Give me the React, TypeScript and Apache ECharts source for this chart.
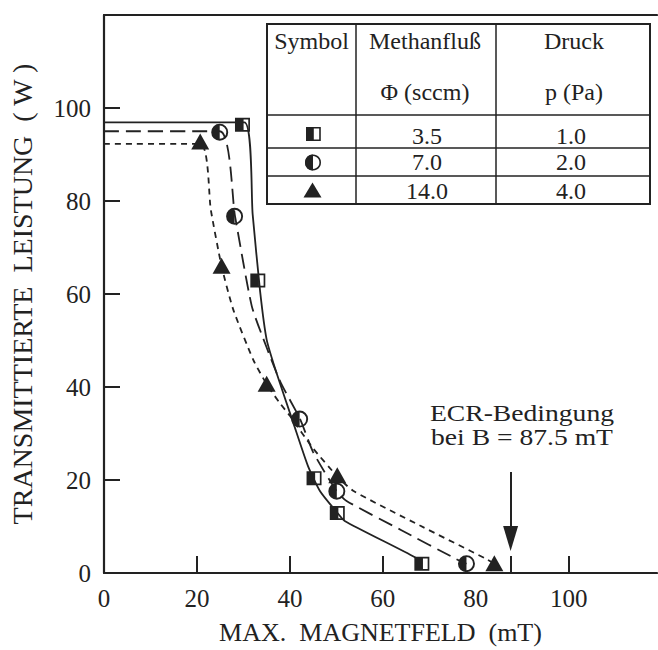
import React, { useEffect, useRef } from "react";
import * as echarts from "echarts";

// ---- data ----
const xLabelValues = [0, 20, 40, 60, 80, 100];
const xTickValues = [20, 40, 60, 87.5, 100];
const yLabelValues = [0, 20, 40, 60, 80, 100];
const yTickValues = [20, 40, 60, 80, 100];

// measured points (B in mT, P in W)
const squarePoints = [[29.8, 96.4], [33.1, 62.9], [45.2, 20.4], [50.2, 12.9], [68.4, 2.0]];
const circlePoints = [[24.9, 94.8], [28.1, 76.7], [42.1, 33.1], [50.1, 17.6], [78.0, 2.0]];
const trianglePoints = [[20.7, 92.8], [25.3, 66.1], [35.0, 40.7], [50.2, 21.0], [84.0, 2.1]];

// fitted curves as drawn in the figure
const squareCurve = [[0, 96.9], [30.2, 96.9], [32.0, 77.0], [33.6, 60.5], [35.0, 50.2], [37.1, 43.1], [40.7, 32.4], [43.9, 23.0], [46.5, 17.6], [50.0, 13.2], [51.8, 11.2], [66.9, 3.4], [68.4, 2.0]];
const circleCurve = [[0, 95.0], [24.9, 95.0], [28.2, 76.7], [31.8, 57.4], [35.0, 48.5], [38.0, 41.0], [42.2, 33.1], [45.0, 26.0], [50.0, 17.7], [52.2, 15.5], [64.0, 9.2], [75.8, 3.0], [78.0, 2.0]];
const triangleCurve = [[0, 92.3], [20.7, 92.3], [23.0, 78.0], [25.3, 66.0], [27.8, 56.7], [32.1, 45.9], [35.0, 40.6], [37.8, 36.6], [40.0, 33.8], [45.0, 26.8], [50.2, 20.8], [53.6, 17.7], [68.0, 10.2], [82.3, 3.0], [84.0, 2.0]];

const ecrField = 87.5;
const arrowFrom = 21.7;
const arrowTo = 7.4;

const tableHeader1 = ["Symbol", "Methanfluß", "Druck"];
const tableHeader2 = ["", "Φ (sccm)", "p (Pa)"];
const flowValues = ["3.5", "7.0", "14.0"];
const pressureValues = ["1.0", "2.0", "4.0"];

const INK = "#222";
const FONT = "'Liberation Serif', 'Times New Roman', serif";

const squarePath = "path://M0 0H7V14H0Z M7 0H15V14H7Z M8.6 1.7V12.3H13.3V1.7Z";
const circlePath = "path://M8 0A8 8 0 0 0 8 16Z M8 0A8 8 0 0 1 8 16Z M8 1.8L8 14.2A6.2 6.2 0 0 0 8 1.8Z";

function buildTable() {
  const L = 267, R = 650, T = 24, B = 204;
  const c1 = 356, c2 = 496;
  const rows = [115, 148, 176];
  const els: any[] = [];
  els.push({ type: "rect", shape: { x: L, y: T, width: R - L, height: B - T }, style: { fill: "#fff", stroke: INK, lineWidth: 2 }, z: 10 });
  els.push({ type: "line", shape: { x1: c1, y1: T, x2: c1, y2: B }, style: { stroke: INK, lineWidth: 1.5 }, z: 11 });
  els.push({ type: "line", shape: { x1: c2, y1: T, x2: c2, y2: B }, style: { stroke: INK, lineWidth: 1.5 }, z: 11 });
  rows.forEach((y) => els.push({ type: "line", shape: { x1: L, y1: y, x2: R, y2: y }, style: { stroke: INK, lineWidth: 1.5 }, z: 11 }));
  const colCenters = [311.5, 425, 574];
  tableHeader1.forEach((t, i) => els.push({ type: "text", x: colCenters[i], y: 41, style: { text: t, font: `24px ${FONT}`, fill: INK, align: "center", verticalAlign: "middle" }, z: 12 }));
  tableHeader2.forEach((t, i) => t && els.push({ type: "text", x: colCenters[i], y: 92, style: { text: t, font: `24px ${FONT}`, fill: INK, align: "center", verticalAlign: "middle" }, z: 12 }));
  const rowCenters = [135.5, 162, 190.5];
  flowValues.forEach((t, i) => els.push({ type: "text", x: 427, y: rowCenters[i], style: { text: t, font: `24px ${FONT}`, fill: INK, align: "center", verticalAlign: "middle" }, z: 12 }));
  pressureValues.forEach((t, i) => els.push({ type: "text", x: 571, y: rowCenters[i], style: { text: t, font: `24px ${FONT}`, fill: INK, align: "center", verticalAlign: "middle" }, z: 12 }));
  // symbols
  els.push({ type: "rect", shape: { x: 306, y: 127, width: 7, height: 14 }, style: { fill: INK }, z: 12 });
  els.push({ type: "rect", shape: { x: 313, y: 127.8, width: 7, height: 12.4 }, style: { fill: "#fff", stroke: INK, lineWidth: 1.6 }, z: 12 });
  els.push({ type: "sector", shape: { cx: 313, cy: 162.5, r: 8, startAngle: Math.PI / 2, endAngle: (3 * Math.PI) / 2 }, style: { fill: INK }, z: 12 });
  els.push({ type: "circle", shape: { cx: 313, cy: 162.5, r: 7.2 }, style: { fill: "none", stroke: INK, lineWidth: 1.6 }, z: 12 });
  els.push({ type: "polygon", shape: { points: [[312.5, 182.5], [321.5, 197.5], [303.5, 197.5]] }, style: { fill: INK }, z: 12 });
  return els;
}

export default function App() {
  const ref = useRef<HTMLDivElement>(null);
  useEffect(() => {
    if (!ref.current) return;
    const chart = echarts.init(ref.current, undefined, { renderer: "svg" });
    const axisLine = { show: true, lineStyle: { color: INK, width: 2.2 } };
    const option: any = {
      animation: false,
      backgroundColor: "#fff",
      textStyle: { fontFamily: FONT },
      grid: { left: 104, right: 1, top: 15, bottom: 76 },
      xAxis: [
        {
          type: "value", min: 0, max: 119,
          axisLine,
          axisTick: { show: true, inside: true, length: 17, customValues: xTickValues, lineStyle: { color: INK, width: 2 } },
          axisLabel: { customValues: xLabelValues, fontSize: 25, color: INK, fontFamily: FONT, margin: 13 },
          splitLine: { show: false },
          name: "MAX.  MAGNETFELD  (mT)", nameLocation: "middle", nameGap: 46,
          nameTextStyle: { fontSize: 26, color: INK, fontFamily: FONT },
        },
        {
          type: "value", min: 0, max: 119, position: "top",
          axisLine, axisTick: { show: false }, axisLabel: { show: false }, splitLine: { show: false },
        },
      ],
      yAxis: {
        type: "value", min: 0, max: 120,
        axisLine,
        axisTick: { show: true, inside: true, length: 16, customValues: yTickValues, lineStyle: { color: INK, width: 2 } },
        axisLabel: { customValues: yLabelValues, fontSize: 25, color: INK, fontFamily: FONT, margin: 13 },
        splitLine: { show: false },
        name: "TRANSMITTIERTE  LEISTUNG  ( W )", nameLocation: "middle", nameGap: 68, nameRotate: 90,
        nameTextStyle: { fontSize: 28, color: INK, fontFamily: FONT, padding: [0, 0, 0, 0] },
      },
      series: [
        { type: "line", data: squareCurve, showSymbol: false, smooth: 0.2, lineStyle: { color: INK, width: 1.8, type: "solid" }, z: 2, silent: true },
        { type: "line", data: circleCurve, showSymbol: false, smooth: 0.2, lineStyle: { color: INK, width: 1.8, type: [15, 7] }, z: 2, silent: true },
        { type: "line", data: triangleCurve, showSymbol: false, smooth: 0.2, lineStyle: { color: INK, width: 1.8, type: [6, 5] }, z: 2, silent: true },
        { type: "scatter", data: squarePoints, symbol: squarePath, symbolSize: [15, 14], itemStyle: { color: INK, opacity: 1 }, z: 5 },
        { type: "scatter", data: circlePoints, symbol: circlePath, symbolSize: [17, 17], itemStyle: { color: INK, opacity: 1 }, z: 5 },
        { type: "scatter", data: trianglePoints, symbol: "triangle", symbolSize: [18, 16], itemStyle: { color: INK, opacity: 1 }, z: 5 },
        {
          type: "line", data: [], silent: true,
          markLine: {
            silent: true, animation: false,
            symbol: ["none", "triangle"], symbolSize: [15, 25],
            label: { show: false },
            lineStyle: { color: INK, width: 2, type: "solid" },
            data: [[{ coord: [ecrField, arrowFrom] }, { coord: [ecrField, arrowTo] }]],
          },
        },
      ],
      graphic: [
        ...buildTable(),
        { type: "text", x: 522, y: 413, scaleX: 1.15, style: { text: "ECR-Bedingung", font: `24px ${FONT}`, fill: INK, align: "center", verticalAlign: "middle" }, z: 12 },
        { type: "text", x: 522, y: 437, scaleX: 1.15, style: { text: "bei B = 87.5 mT", font: `24px ${FONT}`, fill: INK, align: "center", verticalAlign: "middle" }, z: 12 },
      ],
    };
    chart.setOption(option);
    return () => chart.dispose();
  }, []);
  return <div ref={ref} style={{ position: "absolute", left: 0, top: 0, width: 658, height: 650 }} />;
}
